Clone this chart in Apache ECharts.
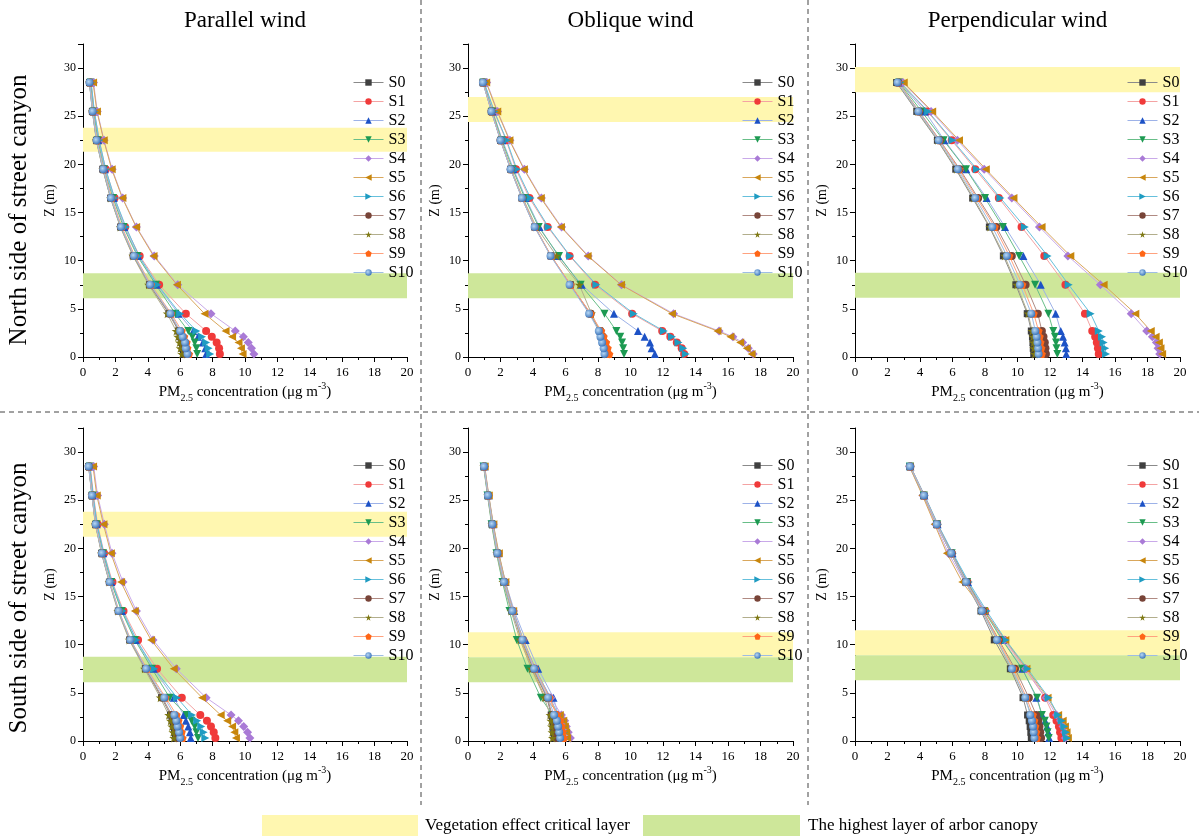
<!DOCTYPE html>
<html>
<head>
<meta charset="utf-8">
<script src="https://cdn.jsdelivr.net/npm/echarts@6.0.0/dist/echarts.min.js"></script>
<style>
  html, body { margin: 0; padding: 0; background: #fff; }
  #chart { width: 1199px; height: 839px; }
</style>
</head>
<body>
<div id="chart"></div>
<script>
// heights of the sampling points (m), bottom to top
const heights = [0.3, 0.9, 1.5, 2.1, 2.7, 4.5, 7.5, 10.5, 13.5, 16.5, 19.5, 22.5, 25.5, 28.5];
const seriesNames = ['S0', 'S1', 'S2', 'S3', 'S4', 'S5', 'S6', 'S7', 'S8', 'S9', 'S10'];
const colTitles = ['Parallel wind', 'Oblique wind', 'Perpendicular wind'];
const rowTitles = ['North side of street canyon', 'South side of street canyon'];
const xTickValues = [0, 2, 4, 6, 8, 10, 12, 14, 16, 18, 20];

// PM2.5 concentration, one row per scenario S0..S10, values follow heights[]
const northParallel = [
  [6.2, 6.15, 6.1, 6.0, 5.9, 5.3, 4.1, 3.1, 2.32, 1.7, 1.22, 0.83, 0.58, 0.4],
  [8.45, 8.4, 8.25, 7.95, 7.6, 6.35, 4.7, 3.5, 2.6, 1.95, 1.4, 1.0, 0.7, 0.5],
  [7.6, 7.55, 7.4, 7.1, 6.8, 5.9, 4.55, 3.4, 2.55, 1.9, 1.35, 0.95, 0.68, 0.48],
  [7.05, 7.0, 6.9, 6.75, 6.5, 5.7, 4.5, 3.35, 2.5, 1.85, 1.3, 0.92, 0.65, 0.47],
  [10.55, 10.4, 10.2, 9.9, 9.4, 7.9, 5.85, 4.4, 3.3, 2.45, 1.8, 1.3, 0.88, 0.65],
  [9.85, 9.75, 9.6, 9.2, 8.8, 7.5, 5.8, 4.35, 3.28, 2.43, 1.77, 1.28, 0.86, 0.62],
  [7.85, 7.75, 7.6, 7.35, 7.0, 6.0, 4.6, 3.45, 2.65, 1.95, 1.4, 1.0, 0.7, 0.5],
  [6.3, 6.25, 6.2, 6.05, 5.95, 5.35, 4.12, 3.12, 2.33, 1.72, 1.24, 0.84, 0.59, 0.41],
  [6.1, 6.0, 5.95, 5.85, 5.75, 5.2, 4.05, 3.08, 2.3, 1.7, 1.22, 0.82, 0.58, 0.4],
  [6.55, 6.45, 6.4, 6.25, 6.1, 5.45, 4.2, 3.2, 2.4, 1.78, 1.28, 0.86, 0.62, 0.42],
  [6.45, 6.35, 6.3, 6.15, 6.0, 5.4, 4.15, 3.15, 2.35, 1.73, 1.25, 0.84, 0.6, 0.4]
];
const northOblique = [
  [8.5, 8.4, 8.3, 8.2, 8.1, 7.5, 6.3, 5.1, 4.1, 3.32, 2.62, 2.0, 1.44, 0.92],
  [13.3, 13.15, 12.85, 12.45, 11.95, 10.1, 7.82, 6.25, 4.9, 3.78, 2.95, 2.35, 1.6, 0.98],
  [11.5, 11.3, 11.2, 10.87, 10.46, 8.98, 7.0, 5.55, 4.4, 3.55, 2.8, 2.12, 1.52, 0.96],
  [9.6, 9.55, 9.48, 9.37, 9.13, 8.4, 6.93, 5.6, 4.35, 3.5, 2.75, 2.08, 1.5, 0.95],
  [17.55, 17.25, 16.9, 16.3, 15.45, 12.65, 9.45, 7.4, 5.76, 4.52, 3.47, 2.58, 1.82, 1.15],
  [17.45, 17.15, 16.75, 16.15, 15.35, 12.55, 9.42, 7.36, 5.72, 4.48, 3.44, 2.55, 1.8, 1.12],
  [13.4, 13.25, 12.95, 12.55, 12.05, 10.2, 7.9, 6.28, 4.95, 3.85, 3.0, 2.38, 1.62, 1.0],
  [8.6, 8.5, 8.4, 8.3, 8.15, 7.55, 6.3, 5.1, 4.12, 3.33, 2.63, 2.0, 1.45, 0.93],
  [8.55, 8.45, 8.35, 8.25, 8.1, 7.6, 6.85, 5.45, 4.2, 3.38, 2.66, 2.02, 1.46, 0.94],
  [8.7, 8.6, 8.5, 8.35, 8.2, 7.55, 6.32, 5.12, 4.13, 3.34, 2.64, 2.01, 1.45, 0.93],
  [8.4, 8.35, 8.25, 8.15, 8.05, 7.45, 6.25, 5.08, 4.1, 3.32, 2.62, 2.0, 1.44, 0.92]
];
const northPerpendicular = [
  [11.0, 10.97, 10.95, 10.92, 10.85, 10.6, 9.9, 9.13, 8.27, 7.24, 6.2, 5.07, 3.8, 2.56],
  [15.0, 14.95, 14.88, 14.78, 14.6, 14.15, 12.95, 11.65, 10.25, 8.85, 7.4, 5.95, 4.45, 2.77],
  [13.0, 12.98, 12.9, 12.8, 12.66, 12.35, 11.43, 10.36, 9.23, 8.1, 6.85, 5.5, 4.3, 2.75],
  [12.45, 12.4, 12.37, 12.3, 12.2, 11.9, 11.08, 10.1, 9.1, 8.0, 6.83, 5.45, 4.1, 2.72],
  [18.75, 18.65, 18.55, 18.3, 17.95, 17.0, 15.1, 13.1, 11.35, 9.65, 7.95, 6.3, 4.68, 2.95],
  [18.9, 18.8, 18.7, 18.5, 18.2, 17.25, 15.3, 13.25, 11.48, 9.75, 8.05, 6.4, 4.75, 3.0],
  [15.45, 15.4, 15.3, 15.2, 15.0, 14.5, 13.15, 11.85, 10.45, 8.95, 7.5, 6.0, 4.5, 2.8],
  [11.75, 11.72, 11.68, 11.6, 11.5, 11.25, 10.5, 9.65, 8.7, 7.58, 6.45, 5.22, 3.95, 2.66],
  [11.05, 11.0, 10.98, 10.95, 10.9, 10.65, 9.95, 9.2, 8.3, 7.3, 6.25, 5.1, 3.85, 2.6],
  [11.5, 11.47, 11.42, 11.37, 11.3, 11.0, 10.3, 9.5, 8.6, 7.5, 6.4, 5.2, 3.92, 2.65],
  [11.3, 11.27, 11.23, 11.18, 11.1, 10.85, 10.15, 9.35, 8.45, 7.4, 6.33, 5.15, 3.9, 2.62]
];
const southParallel = [
  [5.7, 5.65, 5.58, 5.5, 5.4, 4.85, 3.85, 2.88, 2.18, 1.63, 1.15, 0.77, 0.55, 0.35],
  [8.17, 8.07, 7.9, 7.65, 7.24, 6.1, 4.57, 3.4, 2.5, 1.82, 1.3, 0.9, 0.65, 0.45],
  [6.65, 6.6, 6.5, 6.35, 6.22, 5.6, 4.36, 3.25, 2.4, 1.75, 1.25, 0.85, 0.6, 0.42],
  [7.1, 7.0, 6.9, 6.7, 6.4, 5.35, 4.26, 3.2, 2.38, 1.74, 1.24, 0.84, 0.6, 0.42],
  [10.3, 10.16, 9.92, 9.6, 9.14, 7.6, 5.76, 4.32, 3.3, 2.47, 1.79, 1.32, 0.9, 0.66],
  [9.44, 9.34, 9.2, 8.9, 8.5, 7.35, 5.6, 4.2, 3.2, 2.35, 1.72, 1.26, 0.85, 0.62],
  [7.55, 7.45, 7.3, 7.05, 6.73, 5.8, 4.4, 3.3, 2.45, 1.78, 1.28, 0.87, 0.62, 0.43],
  [5.78, 5.72, 5.65, 5.58, 5.48, 4.9, 3.88, 2.9, 2.19, 1.64, 1.16, 0.78, 0.56, 0.36],
  [5.6, 5.55, 5.48, 5.4, 5.29, 4.77, 3.8, 2.85, 2.15, 1.62, 1.14, 0.76, 0.55, 0.35],
  [6.15, 6.1, 6.0, 5.9, 5.78, 5.1, 3.95, 2.95, 2.22, 1.67, 1.18, 0.79, 0.57, 0.36],
  [6.0, 5.93, 5.84, 5.76, 5.64, 5.02, 3.9, 2.92, 2.2, 1.65, 1.17, 0.78, 0.56, 0.35]
];
const southOblique = [
  [5.3, 5.27, 5.24, 5.2, 5.12, 4.85, 4.0, 3.3, 2.7, 2.2, 1.8, 1.48, 1.22, 0.98],
  [5.8, 5.75, 5.68, 5.6, 5.45, 5.0, 4.12, 3.38, 2.76, 2.25, 1.84, 1.52, 1.25, 1.0],
  [5.85, 5.8, 5.73, 5.65, 5.55, 5.26, 4.32, 3.55, 2.85, 2.3, 1.87, 1.54, 1.26, 1.01],
  [5.5, 5.46, 5.4, 5.33, 5.2, 4.48, 3.66, 3.0, 2.55, 2.12, 1.75, 1.45, 1.2, 0.96],
  [6.3, 6.17, 6.05, 5.95, 5.75, 5.1, 4.1, 3.4, 2.8, 2.3, 1.88, 1.55, 1.27, 1.02],
  [6.1, 6.04, 5.96, 5.86, 5.65, 4.75, 3.95, 3.25, 2.78, 2.3, 1.9, 1.56, 1.28, 1.03],
  [5.95, 5.9, 5.82, 5.72, 5.55, 5.05, 4.15, 3.4, 2.78, 2.27, 1.85, 1.53, 1.26, 1.01],
  [5.4, 5.36, 5.32, 5.27, 5.18, 4.88, 4.05, 3.33, 2.72, 2.21, 1.81, 1.49, 1.23, 0.99],
  [5.2, 5.17, 5.14, 5.1, 5.05, 4.7, 3.9, 3.2, 2.65, 2.15, 1.77, 1.47, 1.21, 0.97],
  [5.9, 5.84, 5.77, 5.68, 5.5, 5.02, 4.12, 3.38, 2.76, 2.25, 1.84, 1.52, 1.25, 1.0],
  [5.67, 5.61, 5.55, 5.47, 5.3, 4.93, 4.07, 3.35, 2.73, 2.22, 1.81, 1.5, 1.23, 0.99]
];
const southPerpendicular = [
  [10.85, 10.82, 10.78, 10.72, 10.62, 10.34, 9.56, 8.57, 7.75, 6.8, 5.9, 5.02, 4.22, 3.37],
  [12.7, 12.62, 12.55, 12.4, 12.2, 11.7, 10.45, 9.18, 8.02, 6.92, 5.95, 5.05, 4.24, 3.39],
  [11.95, 11.9, 11.82, 11.7, 11.52, 11.16, 10.3, 9.1, 8.0, 6.95, 6.0, 5.08, 4.27, 3.41],
  [11.92, 11.85, 11.78, 11.68, 11.5, 11.2, 10.28, 9.05, 7.95, 6.9, 5.95, 5.05, 4.24, 3.39],
  [12.95, 12.9, 12.8, 12.65, 12.4, 11.75, 10.5, 9.2, 8.0, 6.75, 5.75, 4.95, 4.18, 3.35],
  [13.1, 13.02, 12.92, 12.78, 12.5, 11.85, 10.55, 9.25, 7.95, 6.6, 5.65, 4.9, 4.15, 3.35],
  [13.05, 12.98, 12.88, 12.72, 12.5, 11.92, 10.62, 9.27, 8.1, 7.0, 6.02, 5.1, 4.28, 3.42],
  [11.45, 11.4, 11.35, 11.28, 11.15, 10.7, 9.85, 8.85, 7.88, 6.88, 5.95, 5.06, 4.26, 3.41],
  [11.1, 11.05, 11.0, 10.95, 10.85, 10.45, 9.62, 8.72, 7.8, 6.82, 5.9, 5.02, 4.22, 3.37],
  [11.2, 11.16, 11.1, 11.04, 10.95, 10.55, 9.75, 8.8, 7.85, 6.86, 5.93, 5.05, 4.25, 3.4],
  [11.04, 11.0, 10.96, 10.89, 10.79, 10.48, 9.66, 8.74, 7.81, 6.84, 5.92, 5.04, 4.25, 3.39]
];

// shaded layers (m): vegetation effect critical layer and arbor canopy top
const yellowBands = [[21.3, 23.8], [24.4, 27.0], [27.5, 30.1], [21.2, 23.8], [8.7, 11.3], [8.9, 11.5]];
const greenBands = [[6.1, 8.7], [6.1, 8.7], [6.15, 8.75], [6.1, 8.75], [6.1, 8.7], [6.3, 8.9]];

const panels = [northParallel, northOblique, northPerpendicular, southParallel, southOblique, southPerpendicular];

const FONT = "'Liberation Serif', 'DejaVu Serif', serif";
const YELLOW = '#FFF7B0';
const GREEN = '#CEE79A';

const markerColors = ['#404040', '#F03A3A', '#1D52C6', '#1D9A52', '#A97AD6', '#C8860C', '#1F9CC2', '#784438', '#7E7812', '#FF6616',
  { type: 'radial', x: 0.4, y: 0.4, r: 0.6, colorStops: [{ offset: 0, color: '#B8D8F4' }, { offset: 1, color: '#3F78BE' }] }];
const lineColors = ['#8a8a8a', '#F4A3A3', '#9DB2E8', '#68BE88', '#C9A9E9', '#D9A75C', '#66C0DC', '#B08A82', '#B2AE8C', '#FFA27F', '#9EBDE4'];
const STAR = 'path://M50,0 L61,35 L98,35 L68,57 L79,91 L50,70 L21,91 L32,57 L2,35 L39,35 Z';
const PENTAGON = 'path://M50,0 L98,36 L80,95 L20,95 L2,36 Z';
const symbols = ['rect', 'circle', 'triangle', 'triangle', 'diamond', 'triangle', 'triangle', 'circle', STAR, PENTAGON, 'circle'];
const rotations = [0, 0, 0, 180, 0, 90, -90, 0, 0, 0, 0];
const sizes = [7, 8, 8, 8, 9, 8, 8, 8, 9, 8, 8];

// plot rectangles
const colLeft = [83, 468, 855];
const colWidth = [324, 325, 325];
const rowTop = [44, 428];
const plotH = 313;
const legendLeft = [348, 737, 1122];
const legendTop = [68, 451];

const grids = [], xAxes = [], yAxes = [], series = [], legends = [];

panels.forEach((panel, p) => {
  const c = p % 3, r = Math.floor(p / 3);
  grids.push({ left: colLeft[c], top: rowTop[r], width: colWidth[c], height: plotH });
  xAxes.push({
    type: 'value', gridIndex: p, min: 0, max: 20, interval: 2,
    name: 'PM{sub|2.5} concentration (μg m{sup|-3})',
    nameLocation: 'middle', nameGap: 24,
    nameTextStyle: {
      fontFamily: FONT, fontSize: 15, color: '#000', lineHeight: 22,
      rich: {
        sub: { fontFamily: FONT, fontSize: 10, lineHeight: 10, verticalAlign: 'bottom', color: '#000' },
        sup: { fontFamily: FONT, fontSize: 10, lineHeight: 10, verticalAlign: 'top', color: '#000' }
      }
    },
    axisLine: { show: true, onZero: false, lineStyle: { color: '#000', width: 1 } },
    axisTick: { show: true, length: 5, lineStyle: { color: '#000' } },
    minorTick: { show: true, splitNumber: 2, length: 3, lineStyle: { color: '#000' } },
    axisLabel: { fontFamily: FONT, fontSize: 13, color: '#000', margin: 9,
      formatter: v => xTickValues.indexOf(v) >= 0 ? String(v) : '' },
    splitLine: { show: false }
  });
  yAxes.push({
    type: 'value', gridIndex: p, min: 0, max: 32.5, interval: 5,
    name: 'Z (m)', nameLocation: 'middle', nameGap: 26, nameRotate: 90,
    nameTextStyle: { fontFamily: FONT, fontSize: 14, color: '#000' },
    axisLine: { show: true, onZero: false, lineStyle: { color: '#000', width: 1 } },
    axisTick: { show: true, length: 5, lineStyle: { color: '#000' } },
    minorTick: { show: true, splitNumber: 2, length: 3, lineStyle: { color: '#000' } },
    axisLabel: { fontFamily: FONT, fontSize: 12, color: '#000', margin: 7, showMaxLabel: false },
    splitLine: { show: false }
  });
  // shaded layers drawn under the profiles
  series.push({
    type: 'line', xAxisIndex: p, yAxisIndex: p, data: [], z: 1, silent: true,
    markArea: {
      silent: true,
      data: [
        [{ yAxis: yellowBands[p][0], itemStyle: { color: YELLOW } }, { yAxis: yellowBands[p][1] }],
        [{ yAxis: greenBands[p][0], itemStyle: { color: GREEN } }, { yAxis: greenBands[p][1] }]
      ]
    }
  });
  panel.forEach((vals, i) => {
    series.push({
      name: seriesNames[i], type: 'line', xAxisIndex: p, yAxisIndex: p, z: 2,
      data: vals.map((v, k) => [v, heights[k]]),
      symbol: symbols[i], symbolSize: sizes[i], symbolRotate: rotations[i],
      showAllSymbol: true,
      itemStyle: { color: markerColors[i] },
      lineStyle: { color: lineColors[i], width: 1 },
      emphasis: { disabled: true }
    });
  });
  legends.push({
    orient: 'vertical', left: legendLeft[c], top: legendTop[r],
    data: seriesNames, itemWidth: 30, itemHeight: 8, itemGap: 0,
    selectedMode: false,
    lineStyle: { width: 1 },
    textStyle: { fontFamily: FONT, fontSize: 16, color: '#000', lineHeight: 19 }
  });
});

const graphics = [];
colTitles.forEach((t, c) => {
  graphics.push({ type: 'text', x: colLeft[c] + colWidth[c] / 2, y: 21,
    style: { text: t, font: '23px ' + FONT, fill: '#000', textAlign: 'center', textVerticalAlign: 'middle' } });
});
[210, 598].forEach((cy, r) => {
  graphics.push({ type: 'text', x: 19, y: cy, rotation: Math.PI / 2,
    style: { text: rowTitles[r], font: '25px ' + FONT, fill: '#000', textAlign: 'center', textVerticalAlign: 'middle' } });
});
const dash = { stroke: '#444', lineWidth: 1, lineDash: [5, 4] };
graphics.push({ type: 'line', shape: { x1: 421, y1: 0, x2: 421, y2: 805 }, style: dash });
graphics.push({ type: 'line', shape: { x1: 808, y1: 0, x2: 808, y2: 805 }, style: dash });
graphics.push({ type: 'line', shape: { x1: 0, y1: 412, x2: 1199, y2: 412 }, style: dash });
// bottom key
graphics.push({ type: 'rect', shape: { x: 262, y: 815, width: 156, height: 21 }, style: { fill: YELLOW } });
graphics.push({ type: 'text', x: 425, y: 826,
  style: { text: 'Vegetation effect critical layer', font: '17px ' + FONT, fill: '#000', textVerticalAlign: 'middle' } });
graphics.push({ type: 'rect', shape: { x: 643, y: 815, width: 157, height: 21 }, style: { fill: GREEN } });
graphics.push({ type: 'text', x: 808, y: 826,
  style: { text: 'The highest layer of arbor canopy', font: '17px ' + FONT, fill: '#000', textVerticalAlign: 'middle' } });

const chart = echarts.init(document.getElementById('chart'), null, { renderer: 'canvas' });
chart.setOption({
  animation: false,
  backgroundColor: '#fff',
  grid: grids,
  xAxis: xAxes,
  yAxis: yAxes,
  legend: legends,
  series: series,
  graphic: graphics
});
</script>
</body>
</html>
